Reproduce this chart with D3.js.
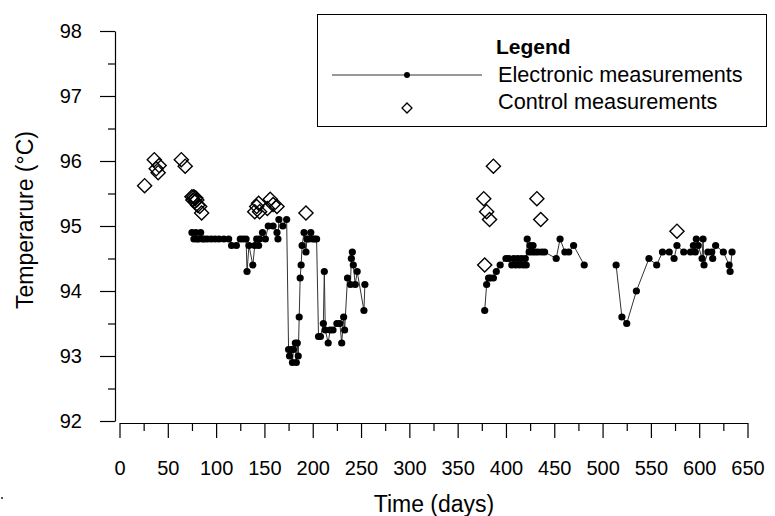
<!DOCTYPE html>
<html>
<head>
<meta charset="utf-8">
<script src="https://cdn.jsdelivr.net/npm/d3@7"></script>
<style>
    body { margin: 0; background: #fff; }
    text { font-family: "Liberation Sans", Arial, sans-serif; fill: #000; }
</style>
</head>
<body>
<div id="chart-area"></div>
<script>
// electronic measurements, three runs separated by gaps: [day, temperature]
var electronicRun1 = [
    [75, 94.9], [77, 94.8], [79, 94.9], [80, 94.8], [82, 94.8], [84, 94.9], [86, 94.8], [88, 94.8],
    [91, 94.8], [95, 94.8], [99, 94.8], [103, 94.8], [108, 94.8], [113, 94.8], [116, 94.7], [121, 94.7],
    [125, 94.8], [128, 94.8], [131, 94.8], [132, 94.3], [134, 94.7], [138, 94.4], [140, 94.7], [142, 94.8],
    [144, 94.7], [145, 94.8], [148, 94.9], [151, 94.8], [154, 95.0], [159, 95.0], [163, 94.9], [164, 94.8],
    [165, 95.1], [169, 95.0], [173, 95.1], [175, 93.1], [176, 93.0], [178, 93.1], [179, 92.9], [180, 93.1],
    [182, 93.2], [183, 92.9], [184, 93.2], [185, 93.0], [186, 93.6], [187, 94.2], [188, 94.4], [189, 94.7],
    [191, 94.9], [193, 94.6], [194, 94.8], [196, 94.8], [198, 94.9], [200, 94.8], [202, 94.8], [204, 94.8],
    [206, 93.3], [208, 93.3], [211, 93.5], [212, 94.3], [213, 93.4], [216, 93.2], [218, 93.4], [221, 93.4],
    [225, 93.5], [228, 93.5], [230, 93.2], [232, 93.6], [233, 93.4], [236, 94.2], [239, 94.1], [240, 94.5],
    [241, 94.6], [242, 94.4], [244, 94.1], [246, 94.3], [253, 93.7], [254, 94.1]
];
var electronicRun2 = [
    [378, 93.7], [380, 94.1], [382, 94.2], [384, 94.2], [387, 94.2], [390, 94.3], [394, 94.4], [400, 94.5],
    [403, 94.5], [406, 94.4], [408, 94.5], [410, 94.4], [412, 94.5], [414, 94.4], [416, 94.5], [418, 94.4],
    [420, 94.5], [421, 94.4], [422, 94.8], [424, 94.6], [425, 94.7], [427, 94.6], [428, 94.7], [430, 94.6],
    [433, 94.6], [437, 94.6], [440, 94.6], [452, 94.5], [456, 94.8], [461, 94.6], [465, 94.6], [470, 94.7],
    [481, 94.4]
];
var electronicRun3 = [
    [514, 94.4], [520, 93.6], [525, 93.5], [535, 94.0], [548, 94.5], [556, 94.4], [562, 94.6], [569, 94.6],
    [574, 94.5], [577, 94.7], [584, 94.6], [591, 94.6], [594, 94.7], [596, 94.6], [597, 94.8], [599, 94.7],
    [603, 94.5], [604, 94.8], [605, 94.4], [609, 94.6], [613, 94.6], [614, 94.5], [617, 94.7], [625, 94.6],
    [631, 94.4], [632, 94.3], [634, 94.6]
];
// control measurements: [day, temperature]
var controlPoints = [
    [26, 95.62], [36, 96.02], [38, 95.88], [40, 95.82], [41, 95.93], [64, 96.02], [68, 95.92],
    [75, 95.45], [76, 95.4], [77, 95.45], [78, 95.38], [79, 95.43], [80, 95.4], [81, 95.32], [83, 95.3],
    [85, 95.2], [140, 95.22], [142, 95.3], [144, 95.35], [145, 95.22], [153, 95.27], [156, 95.41],
    [159, 95.33], [163, 95.3], [193, 95.2],
    [377, 95.42], [378, 94.4], [380, 95.22], [383, 95.1], [387, 95.92], [432, 95.42], [436, 95.1],
    [577, 94.92]
];
var xTicks = d3.range(0, 651, 50);
var yTicks = d3.range(92, 98.01, 1);

var svg = d3.select("#chart-area").append("svg")
    .attr("width", 775)
    .attr("height", 516);

var xScale = d3.scaleLinear().domain([0, 650]).range([119.5, 747.5]);
var yScale = d3.scaleLinear().domain([92, 98]).range([421, 31]);

// y axis, major + minor ticks
svg.append("g")
    .attr("transform", "translate(115,0)")
    .call(d3.axisLeft(yScale).tickValues(yTicks).tickSize(15).tickSizeOuter(0).tickPadding(18)
        .tickFormat(d3.format("d")));
svg.append("g")
    .attr("transform", "translate(115,0)")
    .call(d3.axisLeft(yScale).tickValues(d3.range(92.5, 98, 1)).tickSize(7).tickSizeOuter(0).tickFormat(""))
    .select(".domain").remove();

// x axis, major + minor ticks
svg.append("g")
    .attr("transform", "translate(0,423)")
    .call(d3.axisBottom(xScale).tickValues(xTicks).tickSize(15).tickSizeOuter(0).tickPadding(23));
svg.append("g")
    .attr("transform", "translate(0,423)")
    .call(d3.axisBottom(xScale).tickValues(d3.range(25, 650, 50)).tickSize(8).tickSizeOuter(0).tickFormat(""))
    .select(".domain").remove();

svg.selectAll(".tick text")
    .style("font-size", "20px");
svg.selectAll(".domain, .tick line")
    .attr("stroke", "#000")
    .attr("stroke-width", 1.2);

// axis titles
svg.append("text")
    .attr("x", 434)
    .attr("y", 512)
    .attr("text-anchor", "middle")
    .style("font-size", "23px")
    .text("Time (days)");
svg.append("text")
    .attr("transform", "translate(33,220) rotate(-90)")
    .attr("text-anchor", "middle")
    .style("font-size", "23px")
    .text("Temperarure (\u00B0C)");

// electronic line + dots
var line = d3.line()
    .x(function (d) { return xScale(d[0]); })
    .y(function (d) { return yScale(d[1]); });
var runs = [electronicRun1, electronicRun2, electronicRun3];
svg.selectAll(".run")
    .data(runs)
    .enter()
    .append("path")
    .attr("class", "run")
    .attr("d", line)
    .attr("fill", "none")
    .attr("stroke", "#333")
    .attr("stroke-width", 1);
svg.selectAll(".dot")
    .data(d3.merge(runs))
    .enter()
    .append("circle")
    .attr("class", "dot")
    .attr("cx", function (d) { return xScale(d[0]); })
    .attr("cy", function (d) { return yScale(d[1]); })
    .attr("r", 3.6)
    .attr("fill", "#000");

// control diamonds
var diamond = d3.symbol().type(d3.symbolSquare).size(100);
svg.selectAll(".ctrl")
    .data(controlPoints)
    .enter()
    .append("path")
    .attr("class", "ctrl")
    .attr("d", diamond)
    .attr("transform", function (d) {
        return "translate(" + xScale(d[0]) + "," + yScale(d[1]) + ") rotate(45)";
    })
    .attr("fill", "none")
    .attr("stroke", "#000")
    .attr("stroke-width", 1.4);

// legend
var legend = svg.append("g");
legend.append("rect")
    .attr("x", 317.5).attr("y", 14.5)
    .attr("width", 449).attr("height", 112)
    .attr("fill", "#fff")
    .attr("stroke", "#000")
    .attr("stroke-width", 1);
legend.append("text")
    .attr("x", 496).attr("y", 54)
    .style("font-size", "21px")
    .style("font-weight", "bold")
    .text("Legend");
legend.append("line")
    .attr("x1", 332).attr("x2", 482)
    .attr("y1", 75).attr("y2", 75)
    .attr("stroke", "#333");
legend.append("circle")
    .attr("cx", 407).attr("cy", 75).attr("r", 3)
    .attr("fill", "#000");
legend.append("text")
    .attr("x", 498).attr("y", 82)
    .style("font-size", "21.7px")
    .text("Electronic measurements");
legend.append("path")
    .attr("d", d3.symbol().type(d3.symbolSquare).size(50))
    .attr("transform", "translate(407,108) rotate(45)")
    .attr("fill", "none")
    .attr("stroke", "#000")
    .attr("stroke-width", 1.3);
legend.append("text")
    .attr("x", 498).attr("y", 109)
    .style("font-size", "21.7px")
    .text("Control measurements");

// small stray mark at lower left of the original
svg.append("rect")
    .attr("x", 1).attr("y", 497).attr("width", 2).attr("height", 2)
    .attr("fill", "#555");
</script>
</body>
</html>
